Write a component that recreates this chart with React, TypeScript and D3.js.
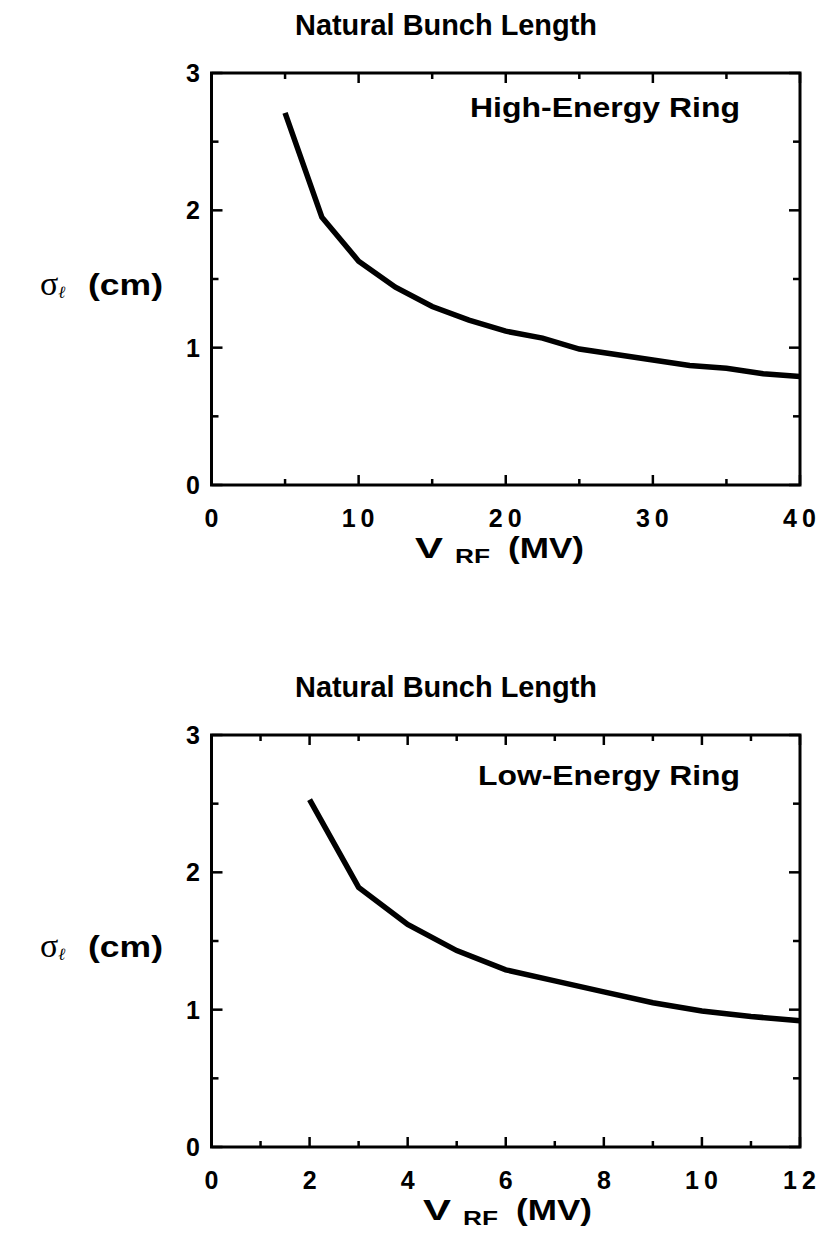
import React from 'react';
import * as d3 from 'd3';

const TITLE = 'Natural Bunch Length';
const hiLabel = 'High-Energy Ring';
const loLabel = 'Low-Energy Ring';
const hiVrf = [5, 7.5, 10, 12.5, 15, 17.5, 20, 22.5, 25, 27.5, 30, 32.5, 35, 37.5, 40];
const hiSigma = [2.71, 1.95, 1.63, 1.44, 1.3, 1.2, 1.12, 1.07, 0.99, 0.95, 0.91, 0.87, 0.85, 0.81, 0.79];
const loVrf = [2, 3, 4, 5, 6, 7, 8, 9, 10, 11, 12];
const loSigma = [2.53, 1.89, 1.62, 1.43, 1.29, 1.21, 1.13, 1.05, 0.99, 0.95, 0.92];
const hiXTicks = [0, 10, 20, 30, 40];
const loXTicks = [0, 2, 4, 6, 8, 10, 12];
const yTicks = [0, 1, 2, 3];

const SANS = '"Liberation Sans", Arial, Helvetica, sans-serif';
const SERIF = '"Liberation Serif", "Times New Roman", serif';

type PanelProps = {
  top: number;
  xs: number[];
  ys: number[];
  xMax: number;
  xMajor: number[];
  xMinorStep: number;
  label: string;
  labelY: number;
  labelLen: number;
  titleX: number;
};

function Panel({ top, xs, ys, xMax, xMajor, xMinorStep, label, labelY, labelLen, titleX }: PanelProps) {
  const L = 211.5;
  const R = 800;
  const T = top;
  const B = top + 412;
  const x = d3.scaleLinear().domain([0, xMax]).range([L, R]);
  const y = d3.scaleLinear().domain([0, 3]).range([B, T]);
  const xMinor = d3.range(0, xMax + 1e-9, xMinorStep);
  const yMinor = d3.range(0, 3 + 1e-9, 0.5);
  const isMajorX = (v: number) => xMajor.some((m) => Math.abs(m - v) < 1e-9);
  const isMajorY = (v: number) => Math.abs(v - Math.round(v)) < 1e-9;
  const line = d3
    .line<number>()
    .x((_, i) => x(xs[i]))
    .y((d) => y(d));
  const tickW = 2.5;
  const xt = B + 73;
  return (
    <g>
      <text x={295} y={T - 38} fontFamily={SANS} fontWeight="bold" fontSize={30}
        textLength={302} lengthAdjust="spacingAndGlyphs">
        {TITLE}
      </text>
      {xMinor.map((v) => {
        const len = isMajorX(v) ? 10 : 6;
        return (
          <g key={'xt' + v}>
            <line x1={x(v)} x2={x(v)} y1={B} y2={B - len} stroke="#000" strokeWidth={tickW} />
            <line x1={x(v)} x2={x(v)} y1={T} y2={T + len} stroke="#000" strokeWidth={tickW} />
          </g>
        );
      })}
      {yMinor.map((v) => {
        const len = isMajorY(v) ? 11 : 7;
        return (
          <g key={'yt' + v}>
            <line x1={L} x2={L + len} y1={y(v)} y2={y(v)} stroke="#000" strokeWidth={tickW} />
            <line x1={R} x2={R - len} y1={y(v)} y2={y(v)} stroke="#000" strokeWidth={tickW} />
          </g>
        );
      })}
      <rect x={L} y={T} width={R - L} height={B - T} fill="none" stroke="#000" strokeWidth={3} />
      <path d={line(ys) || ''} fill="none" stroke="#000" strokeWidth={5.5} strokeLinejoin="miter" />
      {yTicks.map((v) => (
        <text key={'yl' + v} x={200} y={y(v)} dy="0.36em" textAnchor="end" fontFamily={SANS}
          fontWeight="bold" fontSize={25}>
          {v}
        </text>
      ))}
      {xMajor.map((v) => (
        <text key={'xl' + v} x={x(v) + (String(v).length > 1 ? 2 : 0)} y={B + 42} textAnchor="middle"
          fontFamily={SANS} fontWeight="bold" fontSize={25} letterSpacing={String(v).length > 1 ? 5 : 0}>
          {v}
        </text>
      ))}
      <text x={titleX} y={xt} fontFamily={SANS} fontWeight="bold" fontSize={30}
        textLength={28} lengthAdjust="spacingAndGlyphs">V</text>
      <text x={titleX + 40} y={xt + 5} fontFamily={SANS} fontWeight="bold" fontSize={20}
        textLength={35} lengthAdjust="spacingAndGlyphs">RF</text>
      <text x={titleX + 93} y={xt} fontFamily={SANS} fontWeight="bold" fontSize={30}
        textLength={76} lengthAdjust="spacingAndGlyphs">(MV)</text>
      <text x={40} y={T + 222} fontFamily={SERIF} fontSize={34}>
        <tspan>σ</tspan>
        <tspan fontSize={17} dy={3} fontStyle="italic">ℓ</tspan>
      </text>
      <text x={88} y={T + 222} fontFamily={SANS} fontWeight="bold" fontSize={30}
        textLength={75} lengthAdjust="spacingAndGlyphs">(cm)</text>
      <text x={740} y={labelY} textAnchor="end" fontFamily={SANS} fontWeight="bold" fontSize={28}
        textLength={labelLen} lengthAdjust="spacingAndGlyphs">
        {label}
      </text>
    </g>
  );
}

export default function App() {
  return (
    <svg width={822} height={1234} style={{ position: 'absolute', left: 0, top: 0, background: '#fff' }}>
      <rect width={822} height={1234} fill="#fff" />
      <Panel top={73} xs={hiVrf} ys={hiSigma} xMax={40} xMajor={hiXTicks} xMinorStep={5}
        label={hiLabel} labelY={117} labelLen={270} titleX={415} />
      <Panel top={735} xs={loVrf} ys={loSigma} xMax={12} xMajor={loXTicks} xMinorStep={1}
        label={loLabel} labelY={785} labelLen={262} titleX={423} />
    </svg>
  );
}
